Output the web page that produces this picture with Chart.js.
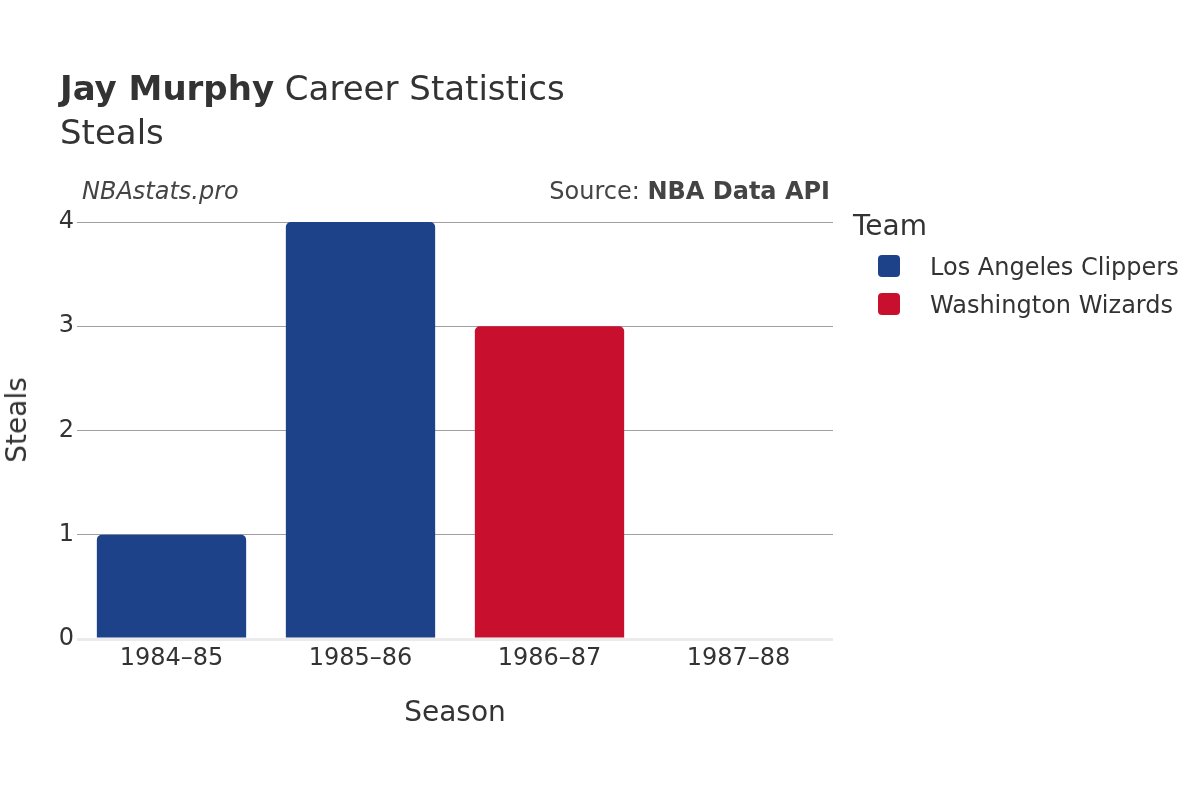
<!DOCTYPE html>
<html>
<head>
<meta charset="utf-8">
<script src="https://cdn.jsdelivr.net/npm/chart.js@4"></script>
<style>
  body { margin: 0; background: #fff; font-family: "DejaVu Sans", sans-serif; color: #333; }
  #wrap { position: relative; width: 1200px; height: 800px; }
  canvas { position: absolute; left: 0; top: 0; }
  .t { position: absolute; white-space: nowrap; line-height: 1; }
  .sw { position: absolute; width: 22px; height: 22px; border-radius: 4px; }
</style>
</head>
<body>
<div id="wrap">
  <canvas id="c" width="1200" height="800"></canvas>
  <div class="t" style="left:60px; top:71px; font-size:34px;"><b>Jay Murphy</b> Career Statistics</div>
  <div class="t" style="left:60px; top:115px; font-size:34px;">Steals</div>
  <div class="t" style="left:82px; top:179px; font-size:24px; font-style:italic; color:#444;">NBAstats.pro</div>
  <div class="t" style="right:370px; top:179px; font-size:24px; color:#444;">Source: <b>NBA Data API</b></div>
  <div class="t" style="left:17px; top:420px; font-size:28px; transform:translate(-50%,-50%) rotate(-90deg);">Steals</div>
  <div class="t" style="left:455px; top:712px; font-size:28px; transform:translate(-50%,-50%);">Season</div>
  <div class="t" style="left:853px; top:212px; font-size:28px;">Team</div>
  <div id="legend"></div>
</div>
<script>
const seasons = ["1984–85", "1985–86", "1986–87", "1987–88"];
const teams = ["Los Angeles Clippers", "Washington Wizards"];
const teamColors = ["#1d428a", "#c8102e"];
const clippersSteals = [1, 4, null, null];
const wizardsSteals = [null, null, 3, 0];
const yTicks = [0, 1, 2, 3, 4];

// legend
const lg = document.getElementById("legend");
teams.forEach((name, i) => {
  const y = 255 + i * 38;
  lg.innerHTML += `<div class="sw" style="left:878px; top:${y}px; background:${teamColors[i]};"></div>` +
    `<div class="t" style="left:930px; top:${y}px; font-size:24px;">${name}</div>`;
});

function makeSet(label, data, color) {
  return {
    label, data,
    backgroundColor: color,
    borderRadius: { topLeft: 5, topRight: 5, bottomLeft: 0, bottomRight: 0 },
    borderSkipped: false,
    barPercentage: 0.79,
    categoryPercentage: 1,
  };
}

new Chart(document.getElementById("c"), {
  type: "bar",
  data: {
    labels: seasons,
    datasets: [
      makeSet(teams[0], clippersSteals, teamColors[0]),
      makeSet(teams[1], wizardsSteals, teamColors[1]),
    ],
  },
  options: {
    responsive: false, animation: false,
    layout: { padding: { top: 222, right: 367, left: 0, bottom: 0 } },
    plugins: { legend: { display: false }, tooltip: { enabled: false } },
    scales: {
      x: {
        stacked: true,
        grid: { display: false, drawTicks: false },
        border: { display: false },
        ticks: { padding: 5, color: "#333", font: { family: "DejaVu Sans", size: 24 } },
        afterFit: s => { s.height = 161; },
      },
      y: {
        stacked: true,
        min: 0, max: 4,
        afterBuildTicks: s => { s.ticks = yTicks.map(v => ({ value: v })); },
        grid: {
          drawTicks: false,
          color: c => c.tick && c.tick.value === 0 ? "#ebebeb" : "#a0a0a0",
          lineWidth: c => c.tick && c.tick.value === 0 ? 3 : 1,
        },
        border: { display: false },
        ticks: { padding: 3, color: "#333", font: { family: "DejaVu Sans", size: 24 } },
        afterFit: s => { s.width = 77; },
      },
    },
  },
});
</script>
</body>
</html>
